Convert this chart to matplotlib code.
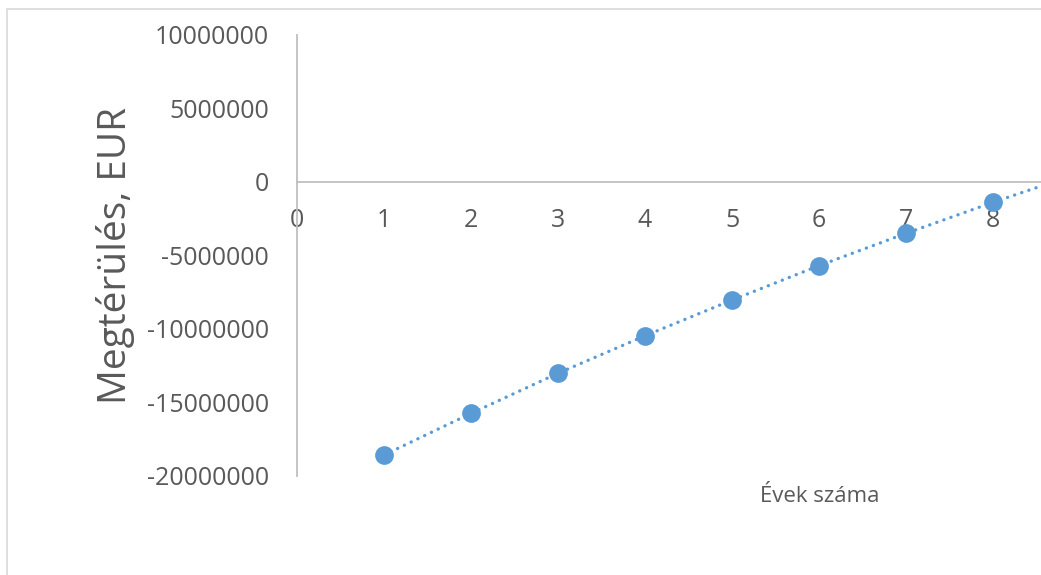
import matplotlib.pyplot as plt
from matplotlib.patches import Rectangle

# years and payback values (EUR)
years = [1, 2, 3, 4, 5, 6, 7, 8, 9]
payback = [-18590000, -15760000, -13030000, -10480000, -8050000,
           -5710000, -3510000, -1400000, 600000]

y_ticks = [-20000000, -15000000, -10000000, -5000000, 0, 5000000, 10000000]
x_ticks = [0, 1, 2, 3, 4, 5, 6, 7, 8]

plt.rcParams['font.family'] = ['Open Sans', 'DejaVu Sans']
grey = '#595959'
axis_grey = '#bfbfbf'

fig = plt.figure(figsize=(10.41, 5.75), dpi=100)

# outer chart border (cropped on the right and bottom)
fig.patches.append(Rectangle((7 / 1041, -0.2), 1.2, 1.2 - 9 / 575,
                             transform=fig.transFigure, fill=False,
                             edgecolor='#d9d9d9', linewidth=1.2))

ax = fig.add_axes([297 / 1041, 99.3 / 575, 1 - 297 / 1041, 441 / 575])

ax.plot(years, payback, color='#5B9BD5', linewidth=2.4,
        linestyle=(0, (0.05, 2.2)), dash_capstyle='round',
        marker='o', markersize=13.5, markeredgewidth=0, zorder=3)

ax.set_xlim(0, 8.55)
ax.set_ylim(-20000000, 10000000)
ax.set_xticks(x_ticks)
ax.set_yticks(y_ticks)
ax.set_yticklabels([str(v) for v in y_ticks])

for side in ['top', 'right']:
    ax.spines[side].set_visible(False)
ax.spines['bottom'].set_position(('data', 0))
ax.spines['bottom'].set_color(axis_grey)
ax.spines['left'].set_color(axis_grey)
ax.spines['bottom'].set_linewidth(1.3)
ax.spines['left'].set_linewidth(1.3)

ax.tick_params(axis='x', length=0, pad=19, labelsize=18, labelcolor=grey)
ax.tick_params(axis='y', length=0, pad=20, labelsize=18, labelcolor=grey)

ax.set_ylabel('Megtérülés, EUR', fontsize=28, color=grey, labelpad=9)
fig.text(820 / 1041, 1 - 497 / 575, 'Évek száma', fontsize=16, color=grey,
         ha='center', va='center')

fig.savefig('out.png', dpi=100)
